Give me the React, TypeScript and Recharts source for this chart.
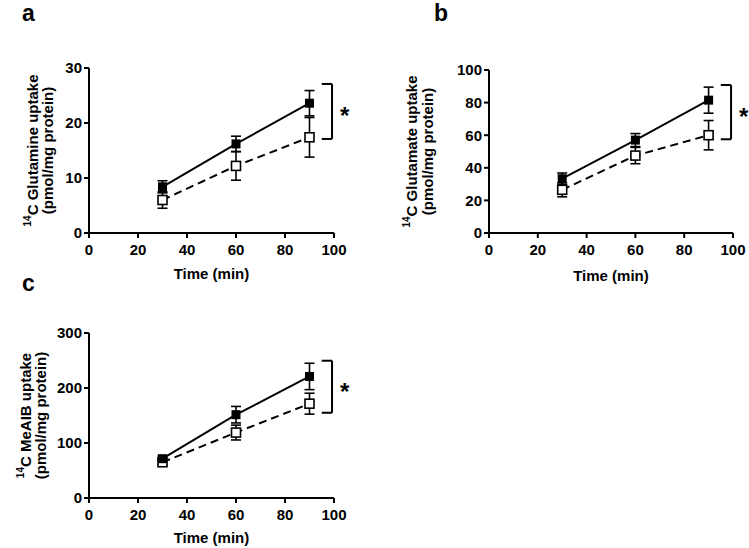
import { LineChart, Line, XAxis, YAxis, ErrorBar, ReferenceLine } from 'recharts';

const FONT = '"Liberation Sans", Arial, Helvetica, sans-serif';

// sampling times (min)
const timePoints = [30, 60, 90];
const xTicks = [0, 20, 40, 60, 80, 100];

// a: 14C glutamine uptake
const glnFilled = [8.4, 16.2, 23.6];
const glnFilledErr = [1.1, 1.4, 2.3];
const glnOpen = [6.0, 12.2, 17.4];
const glnOpenErr = [1.5, 2.6, 3.6];
const glnTicks = [0, 10, 20, 30];
const glnBracket = [17.1, 27.1];

// b: 14C glutamate uptake
const gluFilled = [33.3, 57, 81.5];
const gluFilledErr = [3.5, 4, 8];
const gluOpen = [26.5, 47.5, 60];
const gluOpenErr = [4.3, 5, 9];
const gluTicks = [0, 20, 40, 60, 80, 100];
const gluBracket = [57.5, 90.8];

// c: 14C MeAIB uptake
const meaibFilled = [71.5, 151.5, 221];
const meaibFilledErr = [5, 15, 24];
const meaibOpen = [65, 119, 171.5];
const meaibOpenErr = [5, 13.5, 19];
const meaibTicks = [0, 100, 200, 300];
const meaibBracket = [155, 249.6];

const buildRows = (filled: number[], filledErr: number[], open: number[], openErr: number[]) =>
  timePoints.map((t, i) => ({
    time: t,
    filled: filled[i],
    filledErr: filledErr[i],
    open: open[i],
    openErr: openErr[i],
  }));

const FilledSquare = (props: any) => {
  const { cx, cy, index } = props;
  if (cx == null || cy == null) return <g key={`f-${index}`} />;
  return <rect key={`f-${index}`} x={cx - 4.5} y={cy - 4.5} width={9} height={9} fill="#000" />;
};

const OpenSquare = (props: any) => {
  const { cx, cy, index } = props;
  if (cx == null || cy == null) return <g key={`o-${index}`} />;
  return (
    <rect key={`o-${index}`} x={cx - 4.5} y={cy - 4.5} width={9} height={9} fill="#fff" stroke="#000" strokeWidth={1.6} />
  );
};

interface PanelProps {
  letter: string;
  box: { left: number; top: number; width: number; height: number };
  plot: { x0: number; y0: number; x1: number; y1: number };
  rows: any[];
  yTicks: number[];
  yLabel: string;
  labelX: [number, number];
  letterPos: [number, number];
  timeY: number;
  bracket: number[];
}

function Panel({ letter, box, plot, rows, yTicks, yLabel, labelX, letterPos, timeY, bracket }: PanelProps) {
  const yAxisW = 60;
  const xAxisH = 30;
  const margin = {
    top: plot.y0 - box.top,
    left: plot.x0 - box.left - yAxisW,
    right: box.left + box.width - plot.x1,
    bottom: box.top + box.height - plot.y1 - xAxisH,
  };
  const midY = (plot.y0 + plot.y1) / 2 - box.top;
  const midX = (plot.x0 + plot.x1) / 2 - box.left;
  const yMax = yTicks[yTicks.length - 1];

  const tickStyle = { fill: '#000', fontSize: 15, fontWeight: 700, fontFamily: FONT };
  const axisStroke = { stroke: '#000', strokeWidth: 2 };

  const yTitle = () => (
    <g fontFamily={FONT} fontWeight={700} fill="#000">
      <text
        x={labelX[0] - box.left}
        y={midY}
        textAnchor="middle"
        dominantBaseline="central"
        transform={`rotate(-90, ${labelX[0] - box.left}, ${midY})`}
        fontSize={15}
      >
        <tspan fontSize={10} dy={-5}>14</tspan>
        <tspan dy={5}>{yLabel}</tspan>
      </text>
      <text
        x={labelX[1] - box.left}
        y={midY}
        textAnchor="middle"
        dominantBaseline="central"
        transform={`rotate(-90, ${labelX[1] - box.left}, ${midY})`}
        fontSize={15}
      >
        (pmol/mg protein)
      </text>
    </g>
  );

  const xTitle = () => (
    <text x={midX} y={timeY - box.top + 5} textAnchor="middle" fontFamily={FONT} fontWeight={700} fontSize={15} fill="#000">
      Time (min)
    </text>
  );

  const star = (p: any) => {
    const vb = p.viewBox || {};
    const cy = (vb.y ?? 0) + (vb.height ?? 0) / 2;
    return (
      <text x={(vb.x ?? 0) + 8} y={cy + 13} fontFamily={FONT} fontWeight={700} fontSize={24} fill="#000">
        *
      </text>
    );
  };

  return (
    <div style={{ position: 'absolute', left: box.left, top: box.top, width: box.width, height: box.height }}>
      <div
        style={{
          position: 'absolute',
          left: letterPos[0] - box.left,
          top: letterPos[1] - box.top - 21,
          fontFamily: FONT,
          fontWeight: 700,
          fontSize: 23,
          lineHeight: 'normal',
          color: '#000',
        }}
      >
        {letter}
      </div>
      <LineChart width={box.width} height={box.height} data={rows} margin={margin} style={{ overflow: 'visible' }}>
        <XAxis
          type="number"
          dataKey="time"
          domain={[0, 100]}
          ticks={xTicks}
          interval={0}
          height={xAxisH}
          tick={tickStyle}
          tickSize={5}
          tickMargin={6}
          axisLine={axisStroke}
          tickLine={axisStroke}
          label={{ content: xTitle }}
        />
        <YAxis
          type="number"
          domain={[0, yMax]}
          ticks={yTicks}
          interval={0}
          width={yAxisW}
          tick={tickStyle}
          tickSize={5}
          tickMargin={2}
          axisLine={axisStroke}
          tickLine={axisStroke}
          label={{ content: yTitle }}
        />
        <ReferenceLine
          segment={[{ x: 99.2, y: bracket[0] }, { x: 99.2, y: bracket[1] }]}
          stroke="#000"
          strokeWidth={2}
          ifOverflow="visible"
          label={{ content: star }}
        />
        <ReferenceLine
          segment={[{ x: 95, y: bracket[1] }, { x: 99.2, y: bracket[1] }]}
          stroke="#000"
          strokeWidth={2}
          ifOverflow="visible"
        />
        <ReferenceLine
          segment={[{ x: 95, y: bracket[0] }, { x: 99.2, y: bracket[0] }]}
          stroke="#000"
          strokeWidth={2}
          ifOverflow="visible"
        />
        <Line
          type="linear"
          dataKey="open"
          stroke="#000"
          strokeWidth={2}
          strokeDasharray="8 5"
          dot={OpenSquare}
          activeDot={false}
          isAnimationActive={false}
        >
          <ErrorBar dataKey="openErr" direction="y" width={5} stroke="#000" strokeWidth={1.6} />
        </Line>
        <Line
          type="linear"
          dataKey="filled"
          stroke="#000"
          strokeWidth={2}
          dot={FilledSquare}
          activeDot={false}
          isAnimationActive={false}
        >
          <ErrorBar dataKey="filledErr" direction="y" width={5} stroke="#000" strokeWidth={1.6} />
        </Line>
      </LineChart>
    </div>
  );
}

export default function App() {
  return (
    <div style={{ position: 'absolute', left: 0, top: 0, width: 749, height: 548, background: '#fff', overflow: 'hidden' }}>
      <Panel
        letter="a"
        box={{ left: 0, top: 0, width: 375, height: 285 }}
        plot={{ x0: 89, y0: 68, x1: 334, y1: 233 }}
        rows={buildRows(glnFilled, glnFilledErr, glnOpen, glnOpenErr)}
        yTicks={glnTicks}
        yLabel="C Glutamine uptake"
        labelX={[32, 47]}
        letterPos={[22, 21]}
        timeY={274}
        bracket={glnBracket}
      />
      <Panel
        letter="b"
        box={{ left: 380, top: 0, width: 369, height: 285 }}
        plot={{ x0: 489, y0: 70, x1: 733, y1: 233 }}
        rows={buildRows(gluFilled, gluFilledErr, gluOpen, gluOpenErr)}
        yTicks={gluTicks}
        yLabel="C Glutamate uptake"
        labelX={[411, 427]}
        letterPos={[434, 21]}
        timeY={276}
        bracket={gluBracket}
      />
      <Panel
        letter="c"
        box={{ left: 0, top: 285, width: 375, height: 263 }}
        plot={{ x0: 89, y0: 333, x1: 334, y1: 498 }}
        rows={buildRows(meaibFilled, meaibFilledErr, meaibOpen, meaibOpenErr)}
        yTicks={meaibTicks}
        yLabel="C MeAIB uptake"
        labelX={[25, 40]}
        letterPos={[22, 291]}
        timeY={538}
        bracket={meaibBracket}
      />
    </div>
  );
}
